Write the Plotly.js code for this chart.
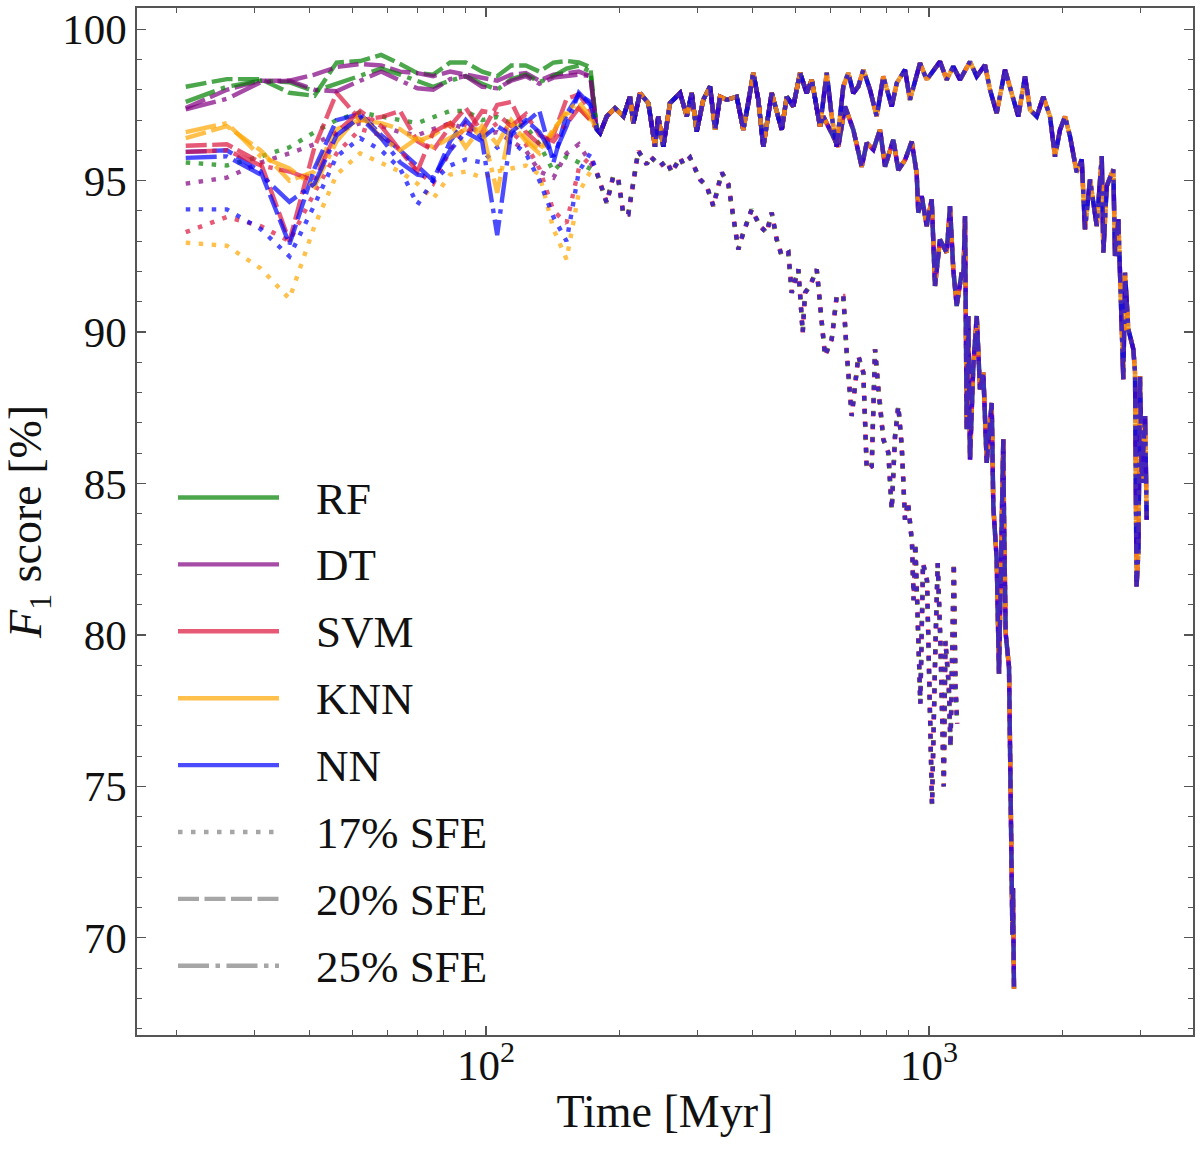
<!DOCTYPE html>
<html>
<head>
<meta charset="utf-8">
<script src="https://cdn.plot.ly/plotly-3.0.1.min.js"></script>
<style>
  html, body { margin: 0; padding: 0; background: #fff; }
  #chart { width: 1200px; height: 1151px; }
</style>
</head>
<body>
<div id="chart"></div>
<script>
// models and SFE runs
const models = ["RF", "DT", "SVM", "KNN", "NN"];
const sfeLabels = ["17% SFE", "20% SFE", "25% SFE"];

// early snapshots (Myr), each model still differs here
const earlyTime = [21, 26, 31, 36, 41, 46, 52, 58, 64, 70, 76, 83, 90, 98, 106, 114, 123, 132, 142, 152, 162, 172];

const rfEarly17 = [95.6, 95.5, 95.8, 96.1, 96.6, 97.0, 97.25, 97.1, 97.0, 96.9, 97.1, 97.3, 97.3, 97.0, 97.1, 96.9, 96.8, 96.2, 95.3, 95.8, 95.6, 95.4];
const dtEarly17 = [94.9, 95.1, 95.6, 95.9, 96.2, 96.6, 96.9, 96.8, 96.6, 96.5, 96.7, 96.9, 96.7, 96.5, 96.6, 96.3, 96.0, 95.3, 95.1, 95.9, 96.2, 95.6];
const svmEarly17 = [93.3, 93.8, 93.5, 93.0, 94.6, 95.9, 96.7, 96.5, 96.0, 95.3, 94.9, 96.0, 96.9, 96.5, 96.9, 96.6, 96.2, 95.4, 94.0, 93.6, 95.4, 95.8];
const knnEarly17 = [92.95, 92.85, 92.1, 91.1, 93.5, 95.2, 95.9, 95.6, 95.3, 94.9, 94.4, 95.2, 95.3, 95.1, 95.3, 95.4, 95.5, 95.2, 93.4, 92.4, 94.6, 95.3];
const nnEarly17 = [94.05, 94.05, 93.4, 92.5, 94.2, 95.8, 96.4, 96.0, 95.4, 94.2, 95.0, 95.5, 95.7, 95.6, 96.1, 96.3, 95.9, 95.0, 93.8, 93.0, 95.3, 95.9];

const rfEarly20 = [98.1, 98.35, 98.35, 97.9, 97.8, 98.9, 98.95, 99.15, 98.85, 98.55, 98.5, 98.9, 98.9, 98.6, 98.45, 98.8, 98.8, 98.6, 98.9, 98.95, 98.9, 98.75];
const dtEarly20 = [97.4, 98.0, 98.3, 98.3, 98.5, 98.75, 98.85, 98.8, 98.6, 98.55, 98.45, 98.6, 98.5, 98.4, 98.3, 98.5, 98.55, 98.3, 98.5, 98.55, 98.6, 98.45];
const svmEarly20 = [96.15, 96.2, 95.6, 93.0, 96.1, 97.9, 97.0, 97.1, 97.3, 96.3, 96.0, 96.8, 97.4, 96.6, 97.5, 97.6, 96.6, 96.2, 96.5, 97.7, 97.85, 97.3];
const knnEarly20 = [96.4, 96.8, 96.0, 95.0, 95.3, 96.7, 97.0, 96.9, 96.7, 96.3, 96.5, 96.9, 96.1, 96.8, 96.2, 97.0, 96.4, 96.0, 96.7, 97.2, 97.4, 97.0];
const nnEarly20 = [95.95, 96.0, 95.3, 92.9, 95.4, 97.0, 97.2, 96.5, 96.0, 95.5, 95.0, 96.3, 97.0, 96.4, 96.8, 96.5, 96.9, 97.3, 95.6, 97.2, 97.85, 97.6];

const rfEarly25 = [97.6, 98.1, 98.3, 98.25, 97.95, 98.2, 98.45, 98.7, 98.5, 98.3, 98.1, 98.3, 98.45, 98.2, 98.0, 98.35, 98.5, 98.25, 98.45, 98.7, 98.8, 98.6];
const dtEarly25 = [97.35, 97.7, 98.25, 98.3, 98.0, 97.95, 98.3, 98.6, 98.3, 98.05, 98.0, 98.35, 98.45, 98.1, 98.05, 98.3, 98.45, 98.2, 98.4, 98.45, 98.5, 98.45];
const svmEarly25 = [95.95, 96.0, 95.5, 95.3, 95.0, 96.6, 97.3, 96.8, 96.0, 95.3, 96.6, 96.9, 96.5, 97.3, 97.2, 96.8, 97.2, 96.5, 96.3, 96.9, 97.4, 97.0];
const knnEarly25 = [96.6, 96.9, 95.8, 95.4, 94.8, 96.3, 97.2, 96.4, 96.0, 96.4, 96.1, 96.4, 96.7, 96.7, 94.6, 96.9, 96.3, 95.9, 96.6, 97.3, 97.6, 97.1];
const nnEarly25 = [95.75, 95.8, 95.2, 94.3, 94.9, 96.5, 97.1, 96.4, 95.6, 95.2, 95.1, 96.0, 96.6, 96.3, 93.2, 96.6, 97.0, 96.6, 95.8, 96.8, 97.9, 97.5];

// later snapshots: all models give the same score
const tail17Time = [177.8, 187.3, 193.8, 198.9, 204.2, 209.5, 220.7, 230.6, 234.5, 247.1, 255.8, 262.6, 274.2, 278.9, 288.8, 304.1, 314.9, 326.0, 340.5, 352.4, 371.1, 380.9, 397.9, 415.4, 430.1, 441.5, 453.1, 465.1, 481.3, 489.9, 507.0, 518.7, 525.0, 538.8, 557.9, 582.4, 603.1, 618.9, 640.5, 652.0, 669.2, 692.6, 710.8, 723.5, 742.5, 755.3, 768.4, 788.5, 809.3, 823.8, 838.1, 852.5, 867.8, 882.8, 896.7, 915.4, 923.1, 931.4, 955.9, 969.4, 989.7, 998.4, 1015.7, 1033.7, 1046.2, 1060.9, 1079.9, 1088.9, 1108.4, 1118.2, 1137.6, 1147.6, 1157.9];
const tail17F1 = [95.27, 94.27, 95.15, 95.04, 93.89, 93.89, 95.98, 95.54, 95.81, 95.48, 95.65, 95.27, 95.76, 95.54, 95.76, 95.04, 94.82, 94.16, 95.27, 94.88, 92.73, 93.28, 94.05, 93.5, 93.28, 93.94, 93.06, 92.51, 92.62, 91.3, 92.07, 89.98, 91.3, 91.52, 92.07, 89.21, 89.76, 91.19, 91.19, 89.32, 87.23, 89.21, 88.66, 85.46, 85.57, 89.43, 88.11, 86.46, 86.02, 84.14, 86.56, 87.56, 86.23, 83.81, 84.4, 83.03, 81.15, 83.03, 77.73, 82.37, 81.8, 79.7, 74.4, 79.6, 82.37, 79.8, 75.0, 79.8, 78.3, 76.3, 82.37, 78.3, 77.06];

// 20% and 25% runs share this stretch
const band2025Time = [177.8, 180.9, 187.3, 195.5, 204.2, 211.4, 215.1, 222.6, 232.5, 240.7, 244.8, 251.3, 260.2, 274.2, 283.9, 291.3, 298.9, 309.4, 320.4, 328.9, 337.5, 349.4, 368.1, 380.9, 391.0, 401.2, 411.8, 422.7, 441.5, 453.1, 465.1, 477.4, 494.0, 511.5, 529.6, 543.6, 567.5];
const band2025F1 = [96.7, 96.57, 97.12, 97.39, 97.12, 97.77, 96.89, 97.89, 97.56, 96.12, 97.12, 96.12, 97.56, 97.89, 97.12, 97.89, 96.62, 97.67, 98.11, 96.68, 97.77, 97.67, 97.77, 96.68, 97.56, 98.56, 97.67, 96.12, 97.89, 97.34, 96.68, 97.77, 97.45, 98.56, 97.89, 98.33, 96.79];

const tail20Time = [577.4, 597.6, 624.1, 646.2, 674.8, 704.8, 723.5, 748.7, 775.3, 795.9, 830.7, 852.5, 882.8, 914.1, 937.9, 945.8, 962.8, 988.1, 1014.1, 1031.6, 1058.8, 1096.3, 1115.2, 1134.5, 1154.7, 1185.2, 1195.1, 1205.8, 1216.4, 1226.6, 1237.6, 1258.9, 1281.4, 1303.4, 1326.1, 1349.8, 1385.2, 1396.8, 1421.6, 1438.7, 1471.2, 1476.6, 1489.6, 1515.6, 1529.0, 1542.6, 1547.2, 1555.4];
const tail20F1 = [97.12, 96.68, 96.12, 97.45, 96.68, 95.46, 96.24, 96.02, 96.68, 95.46, 96.35, 95.35, 95.68, 96.29, 95.24, 93.94, 94.49, 93.5, 94.38, 91.52, 93.06, 92.62, 94.16, 92.07, 90.86, 91.96, 91.74, 93.83, 86.79, 90.53, 85.79, 88.88, 90.53, 88.11, 88.66, 85.68, 87.66, 84.25, 82.49, 78.72, 86.46, 83.92, 80.05, 78.94, 73.41, 70.1, 71.64, 68.32];

const tail25Time = [587.7, 603.1, 618.9, 640.5, 657.4, 674.8, 692.6, 710.8, 735.9, 762.0, 788.5, 823.8, 845.5, 882.8, 905.8, 954.3, 988.1, 1022.6, 1058.8, 1096.3, 1134.5, 1174.9, 1237.6, 1281.4, 1337.8, 1373.1, 1421.6, 1484.5, 1537.1, 1590.6, 1647.1, 1690.5, 1750.3, 1811.3, 1875.4, 1924.8, 1975.6, 2027.7, 2081.2, 2154.8, 2211.6, 2249.8, 2309.1, 2391.3, 2454.4, 2474.8, 2518.5, 2606.4, 2629.9, 2675.1, 2745.6, 2769.7, 2818.0, 2892.3, 2917.8, 2940.7, 2968.6, 2994.7, 3021.0, 3073.5, 3100.5];
const tail25F1 = [98.56, 97.12, 96.12, 98.11, 98.56, 97.89, 98.11, 98.66, 98.0, 97.12, 98.44, 97.45, 98.22, 98.66, 97.67, 98.88, 98.33, 98.66, 98.93, 98.33, 98.77, 98.33, 98.93, 98.44, 98.82, 98.0, 97.23, 98.66, 97.89, 97.12, 98.44, 97.34, 97.12, 97.77, 97.12, 95.79, 96.68, 97.12, 96.46, 95.27, 95.7, 93.39, 95.04, 93.5, 95.81, 92.62, 94.82, 95.37, 92.51, 93.72, 88.44, 91.96, 90.09, 89.43, 88.66, 81.6, 82.71, 88.55, 85.02, 87.23, 83.8];

// axis ticks
const xTickVals = [100, 1000];
const xTickText = ["10<sup>2</sup>", "10<sup>3</sup>"];
const xMinorVals = [20, 30, 40, 50, 60, 70, 80, 90, 200, 300, 400, 500, 600, 700, 800, 900, 2000, 3000];

const modelColors = ["rgba(0,128,0,0.7)", "rgba(128,0,128,0.7)", "rgba(220,20,60,0.7)", "rgba(255,165,0,0.7)", "rgba(0,0,255,0.7)"];
const sfeDash = ["4.5px,8.5px", "21px,5.5px", "31px,6.5px,4.5px,6.5px"];
const LINE_W = 4.4;
const FONT = "'Liberation Serif', 'DejaVu Serif', serif";

const earlyBySfe = [
  [rfEarly17, dtEarly17, svmEarly17, knnEarly17, nnEarly17],
  [rfEarly20, dtEarly20, svmEarly20, knnEarly20, nnEarly20],
  [rfEarly25, dtEarly25, svmEarly25, knnEarly25, nnEarly25]
];
const tailTimeBySfe = [tail17Time, band2025Time.concat(tail20Time), band2025Time.concat(tail25Time)];
const tailF1BySfe = [tail17F1, band2025F1.concat(tail20F1), band2025F1.concat(tail25F1)];

const data = [];
sfeLabels.forEach((sfe, si) => {
  models.forEach((model, mi) => {
    data.push({
      x: earlyTime.concat(tailTimeBySfe[si]),
      y: earlyBySfe[si][mi].concat(tailF1BySfe[si]),
      type: "scatter",
      mode: "lines",
      line: { color: modelColors[mi], width: LINE_W, dash: sfeDash[si] },
      name: `${model} ${sfe}`,
      showlegend: false,
      hoverinfo: "skip"
    });
  });
});

// legend drawn by hand so the sample lines are long like the original
const W = 1200, H = 1151;
const M = { l: 137, r: 7, t: 8, b: 116 };
const plotW = W - M.l - M.r;
const plotH = H - M.t - M.b;
const px2x = (px) => (px - M.l) / plotW;
const py2y = (py) => (H - M.b - py) / plotH;

const shapes = [];
const annotations = [];
const legendTop = 497.5;
const legendStep = 66.9;
const legendRows = models.map((m, i) => ({ text: m, color: modelColors[i], dash: "solid" }))
  .concat(sfeLabels.map((s, i) => ({ text: s, color: "rgba(128,128,128,0.7)", dash: sfeDash[i] })));

legendRows.forEach((row, i) => {
  const py = legendTop + i * legendStep;
  shapes.push({
    type: "line", xref: "paper", yref: "paper",
    x0: px2x(178), x1: px2x(279), y0: py2y(py), y1: py2y(py),
    line: { color: row.color, width: LINE_W, dash: row.dash }
  });
  annotations.push({
    xref: "paper", yref: "paper", x: px2x(314), y: py2y(py + 1),
    xanchor: "left", yanchor: "middle", showarrow: false,
    text: row.text, font: { family: FONT, size: 45, color: "#111" }
  });
});

const axisCommon = {
  showline: true,
  linecolor: "#555",
  linewidth: 1.6,
  mirror: "allticks",
  ticks: "inside",
  ticklen: 9,
  tickwidth: 1.3,
  tickcolor: "#555",
  showgrid: false,
  zeroline: false,
  tickfont: { family: FONT, size: 43, color: "#111" }
};

const layout = {
  width: W,
  height: H,
  margin: M,
  paper_bgcolor: "#fff",
  plot_bgcolor: "#fff",
  showlegend: false,
  font: { family: FONT },
  xaxis: Object.assign({}, axisCommon, {
    type: "log",
    range: [1.2122, 3.5959],
    tickmode: "array",
    tickvals: xTickVals,
    ticktext: xTickText,
    ticklabelstandoff: -8,
    minor: { tickmode: "array", tickvals: xMinorVals, ticks: "inside", ticklen: 5, tickwidth: 1.1, tickcolor: "#555" },
    title: { text: "Time [Myr]", font: { family: FONT, size: 46, color: "#111" }, standoff: 6 }
  }),
  yaxis: Object.assign({}, axisCommon, {
    range: [66.79, 100.7],
    tickmode: "linear",
    tick0: 70,
    dtick: 5,
    ticklabelstandoff: 0,
    minor: { dtick: 1, ticks: "inside", ticklen: 5, tickwidth: 1.1, tickcolor: "#555" },
    title: { text: "<i>F</i><sub>1</sub> score [%]", font: { family: FONT, size: 46, color: "#111" }, standoff: 16 }
  }),
  shapes: shapes,
  annotations: annotations
};

Plotly.newPlot("chart", data, layout, { displayModeBar: false, staticPlot: true });
</script>
</body>
</html>
